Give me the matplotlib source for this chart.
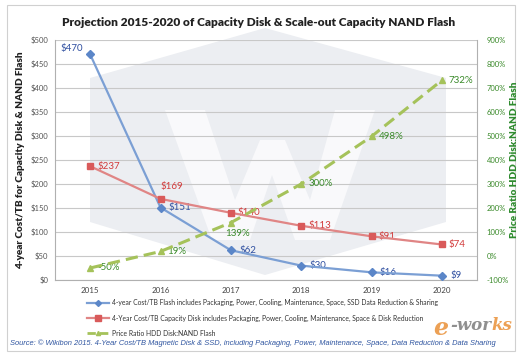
import matplotlib
matplotlib.use("Agg")
import matplotlib.pyplot as plt
from matplotlib.patches import Polygon, Rectangle
from matplotlib.lines import Line2D

years = ["2015", "2016", "2017", "2018", "2019", "2020"]
flash_cost = [470, 151, 62, 30, 16, 9]
disk_cost = [237, 169, 140, 113, 91, 74]
price_ratio = [-50, 19, 139, 300, 498, 732]

left_ticks = [0, 50, 100, 150, 200, 250, 300, 350, 400, 450, 500]
right_ticks = [-100, 0, 100, 200, 300, 400, 500, 600, 700, 800, 900]

title = "Projection 2015-2020 of Capacity Disk & Scale-out Capacity NAND Flash"
ylabel_left = "4-year Cost/TB for Capacity Disk & NAND Flash"
ylabel_right = "Price Ratio HDD Disk:NAND Flash"
legend_labels = [
    "4-year Cost/TB Flash includes Packaging, Power, Cooling, Maintenance, Space, SSD Data Reduction & Sharing",
    "4-Year Cost/TB Capacity Disk includes Packaging, Power, Cooling, Maintenance, Space & Disk Reduction",
    "Price Ratio HDD Disk:NAND Flash",
]
source = ("Source: \u00a9 Wikibon 2015. 4-Year Cost/TB Magnetic Disk & SSD, including Packaging, "
          "Power, Maintenance, Space, Data Reduction & Data Sharing")

plt.rcParams["font.family"] = ["Lato", "DejaVu Sans"]

W, H = 525, 356
fig = plt.figure(figsize=(W / 100, H / 100), dpi=100)
fig.patch.set_facecolor("white")

def px(x, y):
    return (x / W, 1 - y / H)

# outer frame
fig.patches.append(Rectangle(px(7, 351), 508 / W, 346 / H, transform=fig.transFigure,
                             fill=False, edgecolor="#d0d0d0", linewidth=0.8))

# watermark hexagon
hexv = [(265, 28), (446, 78), (446, 222), (265, 275), (90, 222), (90, 78)]
fig.patches.append(Polygon([px(*v) for v in hexv], closed=True, transform=fig.transFigure,
                           facecolor="#eceef2", edgecolor="none", zorder=0))
wv = [(165, 110), (205, 110), (235, 200), (260, 140), (285, 140), (310, 200), (335, 110),
      (375, 110), (330, 240), (295, 240), (272, 175), (250, 240), (212, 240)]
fig.patches.append(Polygon([px(*v) for v in wv], closed=True, transform=fig.transFigure,
                           facecolor="#f9f9fb", edgecolor="none", zorder=0))

ax = fig.add_axes([55 / W, 1 - 280 / H, 422 / W, 240 / H])
ax.set_facecolor("none")
ax.set_zorder(2)
x = list(range(len(years)))

blue_line = "#7b9fd4"
blue_mark = "#5b86c8"
blue_txt = "#2f4fa0"
red_line = "#e08585"
red_mark = "#d95a5a"
red_txt = "#d23a3a"
green_line = "#a5c25a"
green_txt = "#3a8a2a"

ax.set_xlim(-0.5, 5.5)
ax.set_ylim(0, 500)
ax.set_yticks(left_ticks)
ax.set_yticklabels([f"${v}" for v in left_ticks], fontsize=5.5, color="#555555")
ax.set_xticks(x)
ax.set_xticklabels(years, fontsize=5.8, color="#444444")
ax.grid(axis="y", color="#c8c8c8", linewidth=0.8, zorder=0)
for s in ["top", "right"]:
    ax.spines[s].set_visible(False)
ax.spines["left"].set_color("#b0b0b0")
ax.spines["bottom"].set_color("#b0b0b0")
ax.tick_params(axis="both", length=0, pad=5)
ax.set_ylabel(ylabel_left, fontsize=7.2, fontweight="heavy", color="#222222", labelpad=4)

ax.plot(x, flash_cost, color=blue_line, linewidth=1.6, marker="D", markersize=4,
        markerfacecolor=blue_mark, markeredgecolor=blue_mark, zorder=4)
ax.plot(x, disk_cost, color=red_line, linewidth=1.6, marker="s", markersize=5,
        markerfacecolor=red_mark, markeredgecolor=red_mark, zorder=4)

ax2 = ax.twinx()
ax2.set_ylim(-100, 900)
ax2.set_yticks(right_ticks)
ax2.set_yticklabels([f"{v}%" for v in right_ticks], fontsize=5.5, color="#3a8a2a")
ax2.tick_params(axis="y", length=0, pad=7)
for s in ["top", "left", "bottom"]:
    ax2.spines[s].set_visible(False)
ax2.spines["right"].set_color("#b0b0b0")
ax2.set_ylabel(ylabel_right, fontsize=7.2, fontweight="heavy", color="#2e8b2e", labelpad=1)
ax2.plot(x, price_ratio, color=green_line, linewidth=2.2, linestyle=(0, (4, 2)),
         marker="^", markersize=5, markerfacecolor=green_line, markeredgecolor=green_line, zorder=4)

# data labels
flash_off = [(-5, 4), (6, 0), (6, 0), (6, 0), (6, 0), (6, 0)]
flash_ha = ["right", "left", "left", "left", "left", "left"]
for i, v in enumerate(flash_cost):
    ax.annotate(f"${v}", (x[i], v), xytext=flash_off[i], textcoords="offset points",
                fontsize=7, color=blue_txt, va="center", ha=flash_ha[i])
disk_off = [(5, 0), (0, 9), (5, 0), (5, 0), (5, 0), (5, 0)]
for i, v in enumerate(disk_cost):
    ax.annotate(f"${v}", (x[i], v), xytext=disk_off[i], textcoords="offset points",
                fontsize=7, color=red_txt, va="center", ha="left")
ratio_off = [(5, 0), (5, 0), (-4, -8), (5, 0), (5, 0), (5, 0)]
for i, v in enumerate(price_ratio):
    ax2.annotate(f"{v}%", (x[i], v), xytext=ratio_off[i], textcoords="offset points",
                 fontsize=7, color=green_txt, va="center", ha="left")

fig.text(px(259, 22)[0], px(259, 22)[1], title, ha="center", va="center",
         fontsize=8.6, fontweight="heavy", color="#222222")

handles = [
    Line2D([], [], color=blue_line, linewidth=1.6, marker="D", markersize=3,
           markerfacecolor=blue_mark, markeredgecolor=blue_mark),
    Line2D([], [], color=red_line, linewidth=1.6, marker="s", markersize=4,
           markerfacecolor=red_mark, markeredgecolor=red_mark),
    Line2D([], [], color=green_line, linewidth=2, linestyle=(0, (3, 1.5)),
           marker="^", markersize=3, markerfacecolor=green_line, markeredgecolor=green_line),
]
fig.legend(handles, legend_labels, loc="upper left", bbox_to_anchor=px(84, 296),
           frameon=False, fontsize=4.9, handlelength=3.2, handletextpad=0.4,
           labelspacing=1.2, borderpad=0, labelcolor="#333333")

fig.text(px(10, 343)[0], px(10, 343)[1], source, ha="left", va="center",
         fontsize=5.4, style="italic", color="#2f55a0", family="Liberation Sans")

fig.text(px(441, 328)[0], px(441, 328)[1], "e", ha="center", va="center", family="DejaVu Serif",
         fontsize=17, style="italic", fontweight="bold", color="#e8892a", alpha=0.8)
fig.text(px(450, 326)[0], px(450, 326)[1], "-wor", ha="left", va="center", family="DejaVu Serif",
         fontsize=12, style="italic", fontweight="bold", color="#6a6a6a", alpha=0.75)
fig.text(px(491, 326)[0], px(491, 326)[1], "ks", ha="left", va="center", family="DejaVu Serif",
         fontsize=12, style="italic", fontweight="bold", color="#e8892a", alpha=0.8)

fig.savefig("out.png", dpi=100)
